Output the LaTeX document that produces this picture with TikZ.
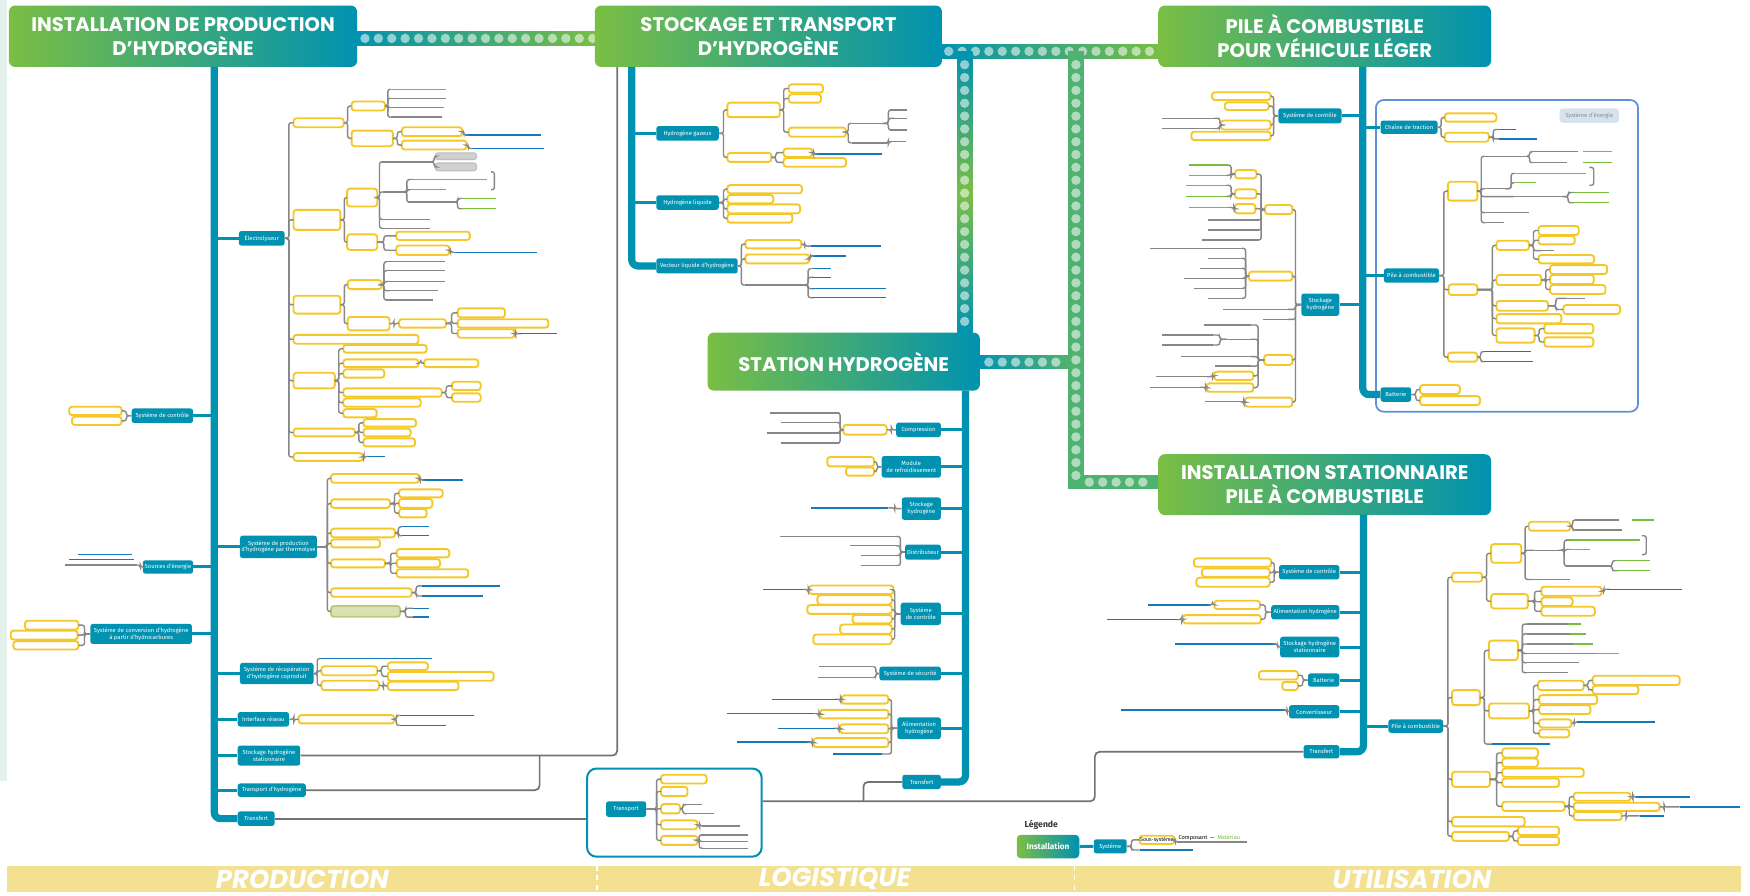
\documentclass[tikz,border=0pt]{standalone}
\usepackage{fontspec}
\setmainfont{Fira Sans}
\newfontfamily\headfont{Poppins}
\usetikzlibrary{calc}

\definecolor{hteal}{RGB}{0,146,176}
\definecolor{hgreen}{RGB}{122,190,68}
\definecolor{midgreen}{RGB}{80,178,112}
\definecolor{hyellow}{RGB}{244,200,40}
\definecolor{twiggray}{RGB}{135,135,135}
\definecolor{linkblue}{RGB}{20,120,185}
\definecolor{leafgreen}{RGB}{120,190,60}
\definecolor{barsand}{RGB}{243,224,145}
\definecolor{boxblue}{RGB}{95,145,215}
\definecolor{pillblue}{RGB}{214,226,238}
\definecolor{stripmint}{RGB}{228,241,236}
\definecolor{olivefill}{RGB}{218,226,178}
\definecolor{oliveline}{RGB}{190,200,120}

% block given by its corners (x1,y1) (x2,y2)
\newcommand{\blk}[7][sub]{\node[#1, minimum width={(#5-#3)*0.25mm}, minimum height={(#6-#4)*0.25mm}] (#2) at ({(#3+#5)/2},{(#4+#6)/2}) {#7};}
% underlined leaf from x1 to x2 at y
\newcommand{\lf}[5][twig]{\node[ul, minimum width={(#4-#3)*0.25mm}] (#2) at ({(#3+#4)/2},#5) {};
  \draw[#1] (#2.west) -- (#2.east);}
% branch to the right / to the left
\newcommand{\br}[3][3.5]{\draw[twig] (#2.east) -- ++(#1,0) |- (#3.west);}
\newcommand{\bl}[3][3.5]{\draw[twig] (#2.west) -- ++(-#1,0) |- (#3.east);}

\begin{document}
\begin{tikzpicture}[x=0.25mm, y=-0.25mm]
  \tikzstyle{head} = [rounded corners=4pt, left color=hgreen, right color=hteal, text=white, align=center, inner sep=0pt, font=\headfont\fontsize{12.5}{15.3}\selectfont\bfseries]
  \tikzstyle{sys} = [fill=hteal, text=white, rounded corners=1.6pt, inner sep=0.6pt, align=center, font=\fontsize{3.7}{4.3}\selectfont]
  \tikzstyle{sub} = [draw=hyellow, fill=white, line width=1.2pt, rounded corners=1.8pt, inner sep=0pt, outer sep=0pt]
  \tikzstyle{gbx} = [fill=black!18, draw=black!25, line width=0.8pt, rounded corners=1.8pt, inner sep=0pt]
  \tikzstyle{obx} = [sub, draw=oliveline, fill=olivefill]
  \tikzstyle{tbx} = [draw=hteal, line width=1.3pt, rounded corners=6pt, inner sep=0pt]
  \tikzstyle{ebox} = [draw=boxblue, line width=1.1pt, rounded corners=5pt, inner sep=0pt]
  \tikzstyle{pill} = [fill=pillblue, text=black!45, rounded corners=2pt, inner sep=0pt, font=\fontsize{3.7}{4.3}\selectfont]
  \tikzstyle{ul} = [inner sep=0pt, outer sep=0pt, minimum height=0pt]
  \tikzstyle{twig} = [draw=twiggray, line width=0.9pt, rounded corners=1.5pt]
  \tikzstyle{lnk} = [draw=linkblue, line width=0.9pt]
  \tikzstyle{gleaf} = [draw=leafgreen, line width=0.9pt]
  \tikzstyle{wire} = [draw=twiggray!85!black, line width=1.1pt, rounded corners=3pt]
  \tikzstyle{trunk} = [draw=hteal, line width=4.6pt, rounded corners=4pt]
  \tikzstyle{limb} = [draw=hteal, line width=1.9pt]
  \tikzstyle{bead} = [fill=white, opacity=0.55]
  \tikzstyle{zone} = [text=white, inner sep=0pt, font=\headfont\fontsize{16.5}{17}\selectfont\bfseries\itshape]

  \fill[white] (0,0) rectangle (1568,802);
  \useasboundingbox (0,0) rectangle (1568,802);
  \fill[stripmint] (0,0) rectangle (6,700);

  % dotted bars between the installations
  \fill[left color=hteal, right color=hgreen] (318,28.4) rectangle (536,40.4);
  \foreach \x in {327,339,...,531} {\fill[bead] (\x,34.4) circle[radius=4.2];}
  \fill[left color=hteal, right color=hgreen] (842,40) rectangle (1040,52);
  \foreach \x in {850,862,...,1030} {\fill[bead] (\x,46) circle[radius=4.2];}
  \fill[top color=hteal, bottom color=hteal, middle color=hgreen] (857.5,46) rectangle (871.2,300);
  \foreach \y in {58,69.5,...,293} {\fill[bead] (864.3,\y) circle[radius=4.2];}
  \fill[midgreen] (957,46) rectangle (971,438);
  \fill[midgreen] (957,426) rectangle (1040,438);
  \foreach \y in {58,69.5,...,426} {\fill[bead] (964,\y) circle[radius=4.2];}
  \foreach \x in {976,988,...,1032} {\fill[bead] (\x,432) circle[radius=4.2];}
  \fill[left color=hteal, right color=midgreen] (876,318.5) rectangle (958,330.5);
  \foreach \x in {886,898,...,950} {\fill[bead] (\x,324.5) circle[radius=4.2];}

  % ---------------- production
  \blk[head]{hprod}{8}{5}{320}{60}{INSTALLATION DE PRODUCTION\\D’HYDROGÈNE}
  \coordinate (ptop) at (192,60);
  \blk[sys]{elec}{214}{207}{255}{220}{Électrolyseur}
  \blk[sys]{thermo}{215}{480}{284}{500}{Système de production\\d’hydrogène par thermolyse}
  \blk[sys]{recup}{215}{594}{281}{613}{Système de récupération\\d’hydrogène coproduit}
  \blk[sys]{reseau}{213}{638}{259}{651}{Interface réseau}
  \blk[sys]{stost}{213}{668}{269}{686}{Stockage hydrogène\\stationnaire}
  \blk[sys]{trh}{213}{702}{274}{714}{Transport d’hydrogène}
  \blk[sys]{trf}{213}{727}{246}{740}{Transfert}
  \blk[sys]{pctl}{118}{366}{173}{379}{Système de contrôle}
  \blk[sys]{pres}{128}{502}{173}{514}{Sources d’énergie}
  \blk[sys]{pconv}{81}{559}{172}{577}{Système de conversion d’hydrogène\\à partir d’hydrocarbures}
  \draw[trunk] (ptop) |- (trf.west);
  \foreach \n in {elec,thermo,recup,reseau,stost,trh} {\draw[limb] (ptop |- \n.west) -- (\n.west);}
  \foreach \n in {pctl,pres,pconv} {\draw[limb] (\n.east) -- (ptop |- \n.east);}

  % electrolyseur
  \blk{e1}{263}{106}{308}{114}{}
  \blk{e2}{263}{188}{305}{206}{}
  \blk{e3}{263}{265}{305}{281}{}
  \blk{e4}{263}{300}{375}{308}{}
  \blk{e5}{263}{334}{300}{348}{}
  \blk{e6}{263}{384}{318}{391}{}
  \blk{e7}{263}{406}{325}{413}{}
  \foreach \c in {e1,e2,e3,e4,e5,e6,e7} {\br{elec}{\c}}
  \blk{e1a}{315}{91}{345}{99}{}
  \blk{e1b}{315}{117}{352}{131}{}
  \br{e1}{e1a} \br{e1}{e1b}
  \lf[gleaf]{e1a1}{350}{400}{80}
  \lf{e1a2}{350}{400}{88}
  \lf{e1a3}{350}{398}{96.5}
  \lf{e1a4}{350}{396}{105}
  \foreach \c in {e1a1,e1a2,e1a3,e1a4} {\br[2.5]{e1a}{\c}}
  \blk{e1b1}{360}{114}{414}{122}{}
  \blk{e1b2}{360}{126}{418}{134}{}
  \br[4]{e1b}{e1b1} \br[4]{e1b}{e1b2}
  \lf[lnk]{e1b1l}{417}{485}{121}
  \lf[lnk]{e1b2l}{421}{487}{133}
  \br[1.5]{e1b1}{e1b1l} \br[1.5]{e1b2}{e1b2l}
  \blk{e2a}{311}{169}{338}{185}{}
  \blk{e2b}{311}{210}{338}{224}{}
  \br{e2}{e2a} \br{e2}{e2b}
  \lf{e2a1}{342}{388}{145}
  \lf{e2a2}{343}{363}{172}
  \lf{e2a3}{342}{385}{196.5}
  \lf{e2a4}{342}{385}{204.5}
  \foreach \c in {e2a1,e2a2,e2a3,e2a4} {\br[2]{e2a}{\c}}
  \blk[gbx]{g1}{390}{137}{427}{143}{}
  \blk[gbx]{g2}{390}{146}{427}{153}{}
  \br[1]{e2a1}{g1} \br[1]{e2a1}{g2}
  \lf[gleaf]{e2c1}{366}{436}{161}
  \lf[gleaf]{e2c2}{366}{400}{170}
  \lf{e2c3}{366}{408}{181}
  \foreach \c in {e2c1,e2c2,e2c3} {\br[1.5]{e2a2}{\c}}
  \lf[gleaf]{e2d1}{412}{444}{178}
  \lf[gleaf]{e2d2}{412}{444}{187}
  \br[2]{e2c3}{e2d1} \br[2]{e2c3}{e2d2}
  \draw[twig] (440,154) -- (443,154) -- (443,170) -- (440,170);
  \blk{e2b1}{355}{207.6}{421}{215}{}
  \blk{e2b2}{355}{220}{402.6}{228.5}{}
  \br[6]{e2b}{e2b1} \br[6]{e2b}{e2b2}
  \lf[lnk]{e2b2l}{405}{481}{226}
  \br[1]{e2b2}{e2b2l}
  \blk{e3a}{311.5}{251}{342}{259}{}
  \blk{e3b}{311.5}{284}{349}{296}{}
  \br{e3}{e3a} \br{e3}{e3b}
  \lf{e3a1}{346}{399}{234.5}
  \lf{e3a2}{346}{399}{242.5}
  \lf{e3a3}{346}{399}{252.4}
  \lf{e3a4}{346}{392}{260.5}
  \lf{e3a5}{346}{388}{268.8}
  \foreach \c in {e3a1,e3a2,e3a3,e3a4,e3a5} {\br[2]{e3a}{\c}}
  \blk{e3c}{357.5}{286}{399.6}{293.6}{}
  \br[4]{e3b}{e3c}
  \blk{e3c1}{410}{276.3}{452.5}{284.4}{}
  \blk{e3c2}{410}{286}{491.4}{293.6}{}
  \blk{e3c3}{410}{295}{461}{302.6}{}
  \foreach \c in {e3c1,e3c2,e3c3} {\br[5]{e3c}{\c}}
  \lf[lnk]{e3c3l}{463}{499}{299}
  \br[1]{e3c3}{e3c3l}
  \blk{e5a}{307.6}{309}{382.3}{316}{}
  \blk{e5b}{307.6}{322}{375}{329}{}
  \blk{e5c}{307.6}{331}{344.4}{338.4}{}
  \blk{e5d}{307.6}{348}{395.8}{355.4}{}
  \blk{e5e}{307.6}{357}{377}{364.4}{}
  \blk{e5f}{307.6}{366.5}{337.5}{374}{}
  \foreach \c in {e5a,e5b,e5c,e5d,e5e,e5f} {\br{e5}{\c}}
  \blk{e5b1}{380}{322}{428.6}{329}{}
  \br[2]{e5b}{e5b1}
  \blk{e5d1}{405}{342}{430.7}{349.5}{}
  \blk{e5d2}{405}{352.5}{430.7}{360}{}
  \br[4]{e5d}{e5d1} \br[4]{e5d}{e5d2}
  \blk{e6a}{325.6}{375.5}{372.8}{382.3}{}
  \blk{e6b}{325.6}{384}{368}{391}{}
  \blk{e6c}{325.6}{392.8}{372}{400}{}
  \foreach \c in {e6a,e6b,e6c} {\br[3.5]{e6}{\c}}
  \lf[lnk]{e7l}{327}{345}{409}
  \br[1]{e7}{e7l}

  % thermolyse
  \blk{t1}{296.6}{424.7}{375.4}{432.5}{}
  \blk{t2}{296.6}{447.4}{349.5}{455}{}
  \blk{t3}{296.6}{473.7}{354}{481.5}{}
  \blk{t4}{296.6}{483.3}{340.5}{490.5}{}
  \blk{t5}{296.6}{501.2}{345}{508.4}{}
  \blk{t6}{296.6}{527.2}{368.9}{534.7}{}
  \blk[obx]{t7}{296.6}{543}{358.4}{552.6}{}
  \foreach \c in {t1,t2,t3,t4,t5,t6,t7} {\br[9]{thermo}{\c}}
  \lf[lnk]{t1l}{378}{415}{430}
  \br[1]{t1}{t1l}
  \blk{t2a}{357.5}{438.5}{396.7}{445.6}{}
  \blk{t2b}{357.5}{447}{387.4}{455}{}
  \blk{t2c}{357.5}{456}{382.3}{463.6}{}
  \foreach \c in {t2a,t2b,t2c} {\br[4]{t2}{\c}}
  \lf[lnk]{t3a}{360}{384}{472}
  \lf[lnk]{t3b}{360}{384}{480}
  \br[3]{t3}{t3a} \br[3]{t3}{t3b}
  \blk{t5a}{355.4}{492}{402.6}{499.4}{}
  \blk{t5b}{355.4}{501}{394.3}{508.4}{}
  \blk{t5c}{355.4}{510}{419.6}{517.3}{}
  \foreach \c in {t5a,t5b,t5c} {\br[5]{t5}{\c}}
  \lf[lnk]{t6a}{378}{448}{525}
  \lf[lnk]{t6b}{378}{433}{534}
  \br[4]{t6}{t6a} \br[4]{t6}{t6b}
  \lf[lnk]{t7a}{370}{384}{545}
  \lf[lnk]{t7b}{370}{384}{553}
  \br[5]{t7}{t7a} \br[5]{t7}{t7b}

  % recuperation, interface
  \lf[lnk]{r0}{287}{387.5}{590}
  \blk{r1}{288}{597}{338}{605}{}
  \blk{r2}{288}{610}{339.5}{618.3}{}
  \foreach \c in {r0,r1,r2} {\br[3]{recup}{\c}}
  \blk{r1a}{347.4}{593.5}{383.4}{600.4}{}
  \blk{r1b}{347.4}{602}{442.3}{610}{}
  \br[4]{r1}{r1a} \br[4]{r1}{r1b}
  \blk{r2a}{347.4}{610.8}{410.8}{618.3}{}
  \br[4]{r2}{r2a}
  \blk{n1}{267.5}{640.7}{353.2}{648.2}{}
  \br[4]{reseau}{n1}
  \lf[lnk]{n1a}{358}{425}{641}
  \lf[lnk]{n1b}{358}{399.5}{650}
  \br[2]{n1}{n1a} \br[2]{n1}{n1b}

  % left of the production trunk
  \blk{c1}{62}{364.4}{109}{372}{}
  \blk{c2}{64.5}{373.4}{109}{380.8}{}
  \bl[4.5]{pctl}{c1} \bl[4.5]{pctl}{c2}
  \lf[lnk]{pr0}{70}{118}{497}
  \lf[lnk]{pr1}{62}{120}{501.5}
  \lf{pr2}{58}{123}{506.3}
  \bl[2]{pres}{pr2}
  \blk{v1}{22.3}{556.2}{70.3}{564}{}
  \blk{v2}{9.6}{565}{69.6}{573}{}
  \blk{v3}{12}{574.4}{70.3}{582}{}
  \foreach \c in {v1,v2,v3} {\bl[5]{pconv}{\c}}

  % links towards logistics
  \coordinate (h2foot) at (553,60);
  \coordinate (tj) at (483.5,677);
  \draw[wire] (stost.east) -| (h2foot);
  \draw[wire] (trh.east) -| (tj);
  \blk[tbx]{tbox}{526}{688.6}{682.5}{767.6}{}
  \draw[wire] (trf.east) -- (trf.east -| tbox.west);

  % transport box
  \blk[sys]{transp}{543}{718}{579}{732}{Transport}
  \blk{x1}{592.3}{694.2}{633.2}{702}{}
  \blk{x2}{592.3}{705}{616}{713.3}{}
  \blk{x3}{592.3}{720.5}{609.3}{728.8}{}
  \blk{x4}{592.3}{735}{624.8}{743}{}
  \blk{x5}{592.3}{749}{625}{757}{}
  \foreach \c in {x1,x2,x3,x4,x5} {\br[9]{transp}{\c}}
  \lf{x3a}{615}{629}{721}
  \lf{x3b}{615}{640}{729}
  \br[2.5]{x3}{x3a} \br[2.5]{x3}{x3b}
  \lf{x4a}{629}{663}{740}
  \br[2]{x4}{x4a}
  \lf{x5a}{628}{670}{748}
  \lf{x5b}{628}{670}{754}
  \lf{x5c}{628}{670}{760}
  \foreach \c in {x5a,x5b,x5c} {\br[1.5]{x5}{\c}}

  % ---------------- stockage et transport
  \blk[head]{hsto}{533}{5}{844}{60}{STOCKAGE ET TRANSPORT\\D’HYDROGÈNE}
  \coordinate (stop) at (566,60);
  \blk[sys]{hg}{588}{113}{644}{126}{Hydrogène gazeux}
  \blk[sys]{hl}{588}{175}{644}{188}{Hydrogène liquide}
  \blk[sys]{vl}{588}{231.5}{661}{245}{Vecteur liquide d’hydrogène}
  \draw[trunk] (stop) |- (vl.west);
  \draw[limb] (stop |- hg.west) -- (hg.west);
  \draw[limb] (stop |- hl.west) -- (hl.west);
  \blk{hg1}{651.7}{92}{698.7}{105}{}
  \blk{hg2}{651.7}{137}{691.2}{145}{}
  \br[4]{hg}{hg1} \br[4]{hg}{hg2}
  \blk{hg1a}{706.6}{75.6}{737.4}{83}{}
  \blk{hg1b}{706.6}{84.5}{735.7}{92}{}
  \blk{hg1c}{706.6}{114.4}{758}{122.5}{}
  \foreach \c in {hg1a,hg1b,hg1c} {\br[3.5]{hg1}{\c}}
  \lf{hga}{763}{795}{110.5}
  \lf{hgb}{763}{795}{128}
  \br[2]{hg1c}{hga} \br[2]{hg1c}{hgb}
  \lf{hga1}{797}{813}{98.6}
  \lf{hga2}{797}{813}{106}
  \lf{hga3}{797}{813}{116.5}
  \foreach \c in {hga1,hga2,hga3} {\br[1]{hga}{\c}}
  \lf{hgb1}{797}{812}{127}
  \br[1]{hgb}{hgb1}
  \blk{hg2a}{702}{133.2}{728}{140.4}{}
  \blk{hg2b}{702}{141.6}{758}{149.4}{}
  \br[4]{hg2}{hg2a} \br[4]{hg2}{hg2b}
  \lf[lnk]{hg2l}{730}{790}{138}
  \br[1]{hg2a}{hg2l}
  \blk{hl1}{651.7}{165.8}{718.6}{173.2}{}
  \blk{hl2}{651.7}{174.7}{692.9}{182.2}{}
  \blk{hl3}{651.7}{183.1}{716.9}{191.2}{}
  \blk{hl4}{651.7}{191.8}{710}{199.5}{}
  \foreach \c in {hl1,hl2,hl3,hl4} {\br[4]{hl}{\c}}
  \blk{vl1}{667.8}{215}{718}{222.5}{}
  \blk{vl2}{667.8}{228}{724.8}{236}{}
  \lf{vl3}{667.8}{722}{255.4}
  \foreach \c in {vl1,vl2,vl3} {\br[3]{vl}{\c}}
  \lf[lnk]{vl1l}{727}{789}{220.5}
  \lf[lnk]{vl2l}{727}{758}{229.5}
  \br[3]{vl1}{vl1l} \br[1]{vl2}{vl2l}
  \lf[lnk]{vl3a}{726}{745}{240.8}
  \lf[lnk]{vl3b}{726}{745}{248.5}
  \lf[lnk]{vl3c}{726}{794}{258.7}
  \lf[lnk]{vl3d}{726}{794}{266.7}
  \foreach \c in {vl3a,vl3b,vl3c,vl3d} {\br[2]{vl3}{\c}}

  % ---------------- station hydrogene
  \blk[head]{hstn}{634}{298}{878}{350}{STATION HYDROGÈNE}
  \coordinate (stntop) at (865,350);
  \blk[sys]{comp}{803}{378.6}{843}{391.6}{Compression}
  \blk[sys]{modr}{790}{408.6}{843}{428}{Module\\de refroidissement}
  \blk[sys]{stoh}{808}{445.7}{843}{465.8}{Stockage\\hydrogène}
  \blk[sys]{dist}{811}{488}{843}{501.4}{Distributeur}
  \blk[sys]{sctl}{807}{540}{843}{560}{Système\\de contrôle}
  \blk[sys]{ssec}{788}{597.3}{843}{609.7}{Système de sécurité}
  \blk[sys]{alim}{804}{642.8}{843}{662.3}{Alimentation\\hydrogène}
  \blk[sys]{strf}{808.5}{694.2}{843}{707}{Transfert}
  \draw[trunk] (stntop) |- (strf.east);
  \foreach \n in {comp,modr,stoh,dist,sctl,ssec,alim} {\draw[limb] (\n.east) -- (stntop |- \n.east);}
  \blk{k1}{755.7}{380.7}{794.5}{389.4}{}
  \bl[4]{comp}{k1}
  \lf{k1a}{690}{752}{370}
  \lf{k1b}{700}{752}{378.6}
  \lf{k1c}{687}{752}{387.8}
  \lf{k1d}{700}{752}{397.1}
  \foreach \c in {k1a,k1b,k1c,k1d} {\bl[3]{k1}{\c}}
  \blk{m1}{741.3}{409.5}{783.2}{417.9}{}
  \blk{m2}{758}{418.8}{783.2}{426.2}{}
  \bl[4]{modr}{m1} \bl[4]{modr}{m2}
  \lf[lnk]{sl}{727}{796}{455}
  \bl[6]{stoh}{sl}
  \lf{d1}{699}{803}{480.7}
  \lf{d2}{762}{803}{489}
  \lf{d3}{771}{803}{497.7}
  \lf{d4}{771}{803}{506.7}
  \foreach \c in {d1,d2,d3,d4} {\bl[4]{dist}{\c}}
  \blk{sc1}{725.2}{524.6}{800.5}{532.3}{}
  \blk{sc2}{732.4}{533.3}{799}{541.6}{}
  \blk{sc3}{723.4}{542.2}{799}{550}{}
  \blk{sc4}{764}{550.9}{799}{558.6}{}
  \blk{sc5}{752.7}{559.6}{799}{567.9}{}
  \blk{sc6}{728.8}{568.5}{799}{577.2}{}
  \foreach \c in {sc1,sc2,sc3,sc4,sc5,sc6} {\bl[5]{sctl}{\c}}
  \lf[lnk]{sc1l}{684}{723}{528.3}
  \bl[1]{sc1}{sc1l}
  \lf{se1}{734}{782.6}{597.3}
  \lf{se2}{733}{782.6}{607.2}
  \bl[3]{ssec}{se1} \bl[3]{ssec}{se2}
  \blk{al1}{754.2}{623}{796}{630.4}{}
  \blk{al2}{734.8}{636}{796}{643.7}{}
  \blk{al3}{752.7}{649}{796}{657}{}
  \blk{al4}{728.8}{661.4}{796}{669.4}{}
  \lf[lnk]{al5}{746.7}{790}{675.6}
  \foreach \c in {al1,al2,al3,al4,al5} {\bl[5]{alim}{\c}}
  \lf[lnk]{al1l}{692}{752}{626.5}
  \lf[lnk]{al2l}{651}{733}{639.5}
  \lf[lnk]{al3l}{697}{751}{652.5}
  \lf[lnk]{al4l}{660}{727}{665}
  \bl[1]{al1}{al1l} \bl[1]{al2}{al2l} \bl[1]{al3}{al3l} \bl[1]{al4}{al4l}
  \coordinate (sj) at (773.6,718);
  \coordinate (xj) at (981,718);
  \draw[wire] (strf.west) -| (sj);

  % ---------------- pile vehicule leger
  \blk[head]{hpv}{1038}{5}{1336}{60}{PILE À COMBUSTIBLE\\POUR VÉHICULE LÉGER}
  \blk[ebox]{ebox}{1232.8}{89.6}{1467.7}{368.9}{}
  \blk[pill]{epill}{1397.4}{97}{1450.6}{110}{Système d’énergie}
  \coordinate (vtop) at (1221,60);
  \blk[sys]{vctl}{1145.4}{97}{1202}{110.5}{Système de contrôle}
  \blk[sys]{vsto}{1166}{263}{1200}{283}{Stockage\\hydrogène}
  \blk[sys]{vtrac}{1237}{108}{1288}{120}{Chaîne de traction}
  \blk[sys]{vpile}{1240}{240.5}{1289.4}{253.3}{Pile à combustible}
  \blk[sys]{vbat}{1237}{347}{1264.4}{360}{Batterie}
  \draw[trunk] (vtop) |- (vbat.west);
  \draw[limb] (vctl.east) -- (vtop |- vctl.east);
  \draw[limb] (vsto.east) -- (vtop |- vsto.east);
  \draw[limb] (vtop |- vtrac.west) -- (vtrac.west);
  \draw[limb] (vtop |- vpile.west) -- (vpile.west);
  \blk{vc1}{1086}{82.7}{1138.5}{89.6}{}
  \blk{vc2}{1097.4}{91.7}{1136.8}{98.6}{}
  \blk{vc3}{1094}{108}{1138.5}{116}{}
  \blk{vc4}{1067.5}{118}{1138.5}{125.5}{}
  \foreach \c in {vc1,vc2,vc3,vc4} {\bl[4]{vctl}{\c}}
  \lf{vc3a}{1041}{1092}{106}
  \lf{vc3b}{1041}{1092}{115}
  \bl[1]{vc3}{vc3a} \bl[1]{vc3}{vc3b}
  % reservoir side
  \blk{vr}{1133.4}{183.7}{1158}{191.8}{}
  \blk{vm}{1119}{243.4}{1158}{251.5}{}
  \lf{vs1}{1095.7}{1154}{277.2}
  \lf{vs2}{1131.7}{1154}{286.2}
  \blk{vh}{1132.7}{318}{1158}{327}{}
  \blk{vcy}{1115.5}{356.3}{1158}{364.4}{}
  \foreach \c in {vr,vm,vs1,vs2,vh,vcy} {\bl[5]{vsto}{\c}}
  \blk{y1}{1106.6}{152.3}{1125.8}{159.8}{}
  \blk{y2}{1106.6}{169.7}{1125.8}{177.7}{}
  \blk{y3}{1106.6}{182.8}{1124.8}{191.2}{}
  \lf{y4}{1082}{1128}{197.1}
  \lf{y5}{1082}{1128}{206.1}
  \lf{y6}{1077}{1128}{215}
  \foreach \c in {y1,y2,y3,y4,y5,y6} {\bl[3.4]{vr}{\c}}
  \lf[gleaf]{y1a}{1065}{1099}{148}
  \lf[gleaf]{y1b}{1065}{1099}{157}
  \bl[3.5]{y1}{y1a} \bl[3.5]{y1}{y1b}
  \lf[gleaf]{y2a}{1063}{1099}{166}
  \lf[gleaf]{y2b}{1063}{1099}{176}
  \bl[3.5]{y2}{y2a} \bl[3.5]{y2}{y2b}
  \lf[gleaf]{y3a}{1065}{1104}{186}
  \bl[1]{y3}{y3a}
  \lf{vm1}{1030.5}{1113}{222.5}
  \lf{vm2}{1082}{1113}{231.5}
  \lf{vm3}{1075}{1113}{240.5}
  \lf{vm4}{1061}{1113}{249.4}
  \lf{vm5}{1070}{1113}{258.4}
  \lf{vm6}{1082}{1113}{267.3}
  \foreach \c in {vm1,vm2,vm3,vm4,vm5,vm6} {\bl[3]{vm}{\c}}
  \lf{vh1}{1078.5}{1121}{291.2}
  \lf{vh2}{1099}{1121}{304}
  \lf{vh3}{1058}{1121}{319.6}
  \lf{vh4}{1089}{1121}{328}
  \blk{vh5}{1088}{333}{1123}{340.5}{}
  \blk{vh6}{1081.2}{343.5}{1123}{351}{}
  \foreach \c in {vh1,vh2,vh3,vh4,vh5,vh6} {\bl[5.5]{vh}{\c}}
  \lf{vh2a}{1041}{1087}{300.2}
  \lf{vh2b}{1041}{1087}{309.1}
  \bl[6]{vh2}{vh2a} \bl[6]{vh2}{vh2b}
  \lf{vh5a}{1036}{1085}{337.5}
  \bl[1.5]{vh5}{vh5a}
  \lf{vh6a}{1030.5}{1079}{347}
  \bl[1]{vh6}{vh6a}
  \lf{vcya}{1080}{1114}{360}
  \bl[1]{vcy}{vcya}
  % energy side
  \blk{tr1}{1294.5}{101.6}{1340.8}{109}{}
  \blk{tr2}{1294.5}{118.9}{1334}{127}{}
  \br[3]{vtrac}{tr1} \br[3]{vtrac}{tr2}
  \lf[lnk]{tr2a}{1343}{1358}{116}
  \lf[lnk]{tr2b}{1343}{1377}{124.5}
  \br[4]{tr2}{tr2a} \br[4]{tr2}{tr2b}
  \blk{p1}{1297.3}{162.8}{1323.7}{179.8}{}
  \blk{p2}{1298}{254.8}{1323.7}{264.3}{}
  \blk{p3}{1297.3}{316}{1323.7}{324}{}
  \foreach \c in {p1,p2,p3} {\br[4]{vpile}{\c}}
  \lf{pl1}{1330}{1368}{140}
  \lf{pl2}{1331}{1352}{169}
  \lf{pl3}{1356}{1404}{176.2}
  \lf{pl4}{1331}{1370}{190.6}
  \lf{pl5}{1331}{1348}{199.5}
  \foreach \c in {pl1,pl2,pl3,pl4,pl5} {\br[3.5]{p1}{\c}}
  \lf{pl1a}{1373}{1414}{136}
  \lf{pl1b}{1373}{1404}{145.8}
  \br[2.5]{pl1}{pl1a} \br[2.5]{pl1}{pl1b}
  \lf[gleaf]{pl1c}{1418}{1444}{136}
  \lf[gleaf]{pl1d}{1418}{1444}{145.8}
  \lf[gleaf]{pl2a}{1357}{1421}{155.3}
  \lf[gleaf]{pl2b}{1357}{1376}{163.7}
  \br[2]{pl2}{pl2a} \br[2]{pl2}{pl2b}
  \draw[twig] (1424,150) -- (1428,150) -- (1428,166) -- (1424,166);
  \lf[gleaf]{pl3a}{1406}{1442}{172.6}
  \lf[gleaf]{pl3b}{1406}{1442}{181.6}
  \br[1]{pl3}{pl3a} \br[1]{pl3}{pl3b}
  \blk{q1}{1340.8}{215.7}{1370}{224}{}
  \blk{q2}{1340.8}{246.4}{1381}{255.4}{}
  \blk{q3}{1340.8}{269.7}{1387}{278.4}{}
  \blk{q4}{1340.8}{281.4}{1399}{289.7}{}
  \blk{q5}{1340.8}{294.2}{1375}{307}{}
  \foreach \c in {q1,q2,q3,q4,q5} {\br[13.5]{p2}{\c}}
  \blk{q1a}{1378.5}{202.5}{1414.5}{210.6}{}
  \blk{q1b}{1378.5}{211.5}{1411}{219}{}
  \lf{q1c}{1381}{1392}{224.6}
  \blk{q1d}{1378.5}{228.5}{1428.3}{236}{}
  \foreach \c in {q1a,q1b,q1c,q1d} {\br[4]{q1}{\c}}
  \blk{q2a}{1388.8}{237.5}{1440}{245.5}{}
  \blk{q2b}{1388.8}{246.4}{1428}{254.5}{}
  \blk{q2c}{1388.8}{255.4}{1438.5}{263.4}{}
  \foreach \c in {q2a,q2b,q2c} {\br[4]{q2}{\c}}
  \lf{q3a}{1403}{1420}{267.3}
  \blk{q3b}{1400.8}{273.3}{1451.6}{281.4}{}
  \br[7]{q3}{q3a} \br[7]{q3}{q3b}
  \blk{q5a}{1383.7}{290.3}{1427.6}{298.7}{}
  \blk{q5b}{1383.7}{302.3}{1427.6}{310.6}{}
  \br[4]{q5}{q5a} \br[4]{q5}{q5b}
  \lf[lnk]{p3a}{1329.5}{1371.7}{315}
  \lf[lnk]{p3b}{1329.5}{1374}{324}
  \br[3]{p3}{p3a} \br[3]{p3}{p3b}
  \blk{vb1}{1272.3}{345}{1308}{353}{}
  \blk{vb2}{1272.3}{354.9}{1326}{363}{}
  \br[4]{vbat}{vb1} \br[4]{vbat}{vb2}

  % ---------------- installation stationnaire
  \blk[head]{hst}{1038}{407}{1336}{461.5}{INSTALLATION STATIONNAIRE\\PILE À COMBUSTIBLE}
  \coordinate (xtop) at (1221.7,461);
  \blk[sys]{xctl}{1146}{506.3}{1200}{519.2}{Système de contrôle}
  \blk[sys]{xali}{1139}{542.2}{1200}{555}{Alimentation hydrogène}
  \blk[sys]{xsto}{1147}{570.5}{1200}{589}{Stockage hydrogène\\stationnaire}
  \blk[sys]{xbat}{1172}{603.4}{1200}{615.3}{Batterie}
  \blk[sys]{xconv}{1155}{631.8}{1200}{643.7}{Convertisseur}
  \blk[sys]{xtrf}{1168}{667.6}{1200}{679.6}{Transfert}
  \blk[sys]{xpile}{1244}{644.6}{1293}{656.6}{Pile à combustible}
  \draw[trunk] (xtop) |- (xtrf.east);
  \foreach \n in {xctl,xali,xsto,xbat,xconv} {\draw[limb] (\n.east) -- (xtop |- \n.east);}
  \draw[limb] (xtop |- xpile.west) -- (xpile.west);
  \draw[wire] (tbox.east |- sj) -- (xj) |- (xtrf.west);
  \blk{xc1}{1069.7}{500.3}{1139}{507.8}{}
  \blk{xc2}{1077}{509.3}{1137.7}{516.8}{}
  \blk{xc3}{1072}{517.7}{1137.7}{525.7}{}
  \foreach \c in {xc1,xc2,xc3} {\bl[4]{xctl}{\c}}
  \blk{xa1}{1088}{538.3}{1129}{545.7}{}
  \blk{xa2}{1060}{551.1}{1129.7}{558.6}{}
  \bl[5]{xali}{xa1} \bl[5]{xali}{xa2}
  \lf[lnk]{xa1l}{1029}{1085}{542}
  \lf[lnk]{xa2l}{992}{1058}{555}
  \bl[1.5]{xa1}{xa1l} \bl[1]{xa2}{xa2l}
  \lf[lnk]{xsl}{1053}{1143}{577}
  \bl[2]{xsto}{xsl}
  \blk{xb1}{1128}{601.3}{1163}{608.8}{}
  \blk{xb2}{1149}{610.9}{1163}{618.3}{}
  \bl[4.5]{xbat}{xb1} \bl[4.5]{xbat}{xb2}
  \lf[lnk]{xcl}{1004}{1152}{636.2}
  \bl[1.5]{xconv}{xcl}
  % pile stationnaire
  \blk{s1}{1301}{513.2}{1328}{521.2}{}
  \blk{s2}{1301}{618.3}{1326}{631.8}{}
  \blk{s3}{1301}{691.5}{1335}{705}{}
  \blk{s4}{1301}{732}{1366}{740.4}{}
  \blk{s5}{1301}{745.4}{1352}{753.4}{}
  \foreach \c in {s1,s2,s3,s4,s5} {\br[4]{xpile}{\c}}
  \blk{s1a}{1336}{487.5}{1363}{504.2}{}
  \blk{s1b}{1336}{532.3}{1369}{545.2}{}
  \br[4]{s1}{s1a} \br[4]{s1}{s1b}
  \blk{s1a1}{1369.7}{467.5}{1407}{475.5}{}
  \lf{s1a2}{1375}{1400}{493}
  \lf{s1a3}{1373}{1407}{519.2}
  \foreach \c in {s1a1,s1a2,s1a3} {\br[3.5]{s1a}{\c}}
  \lf{s1a1a}{1411}{1451}{466}
  \lf{s1a1b}{1411}{1453}{475}
  \br[2]{s1a1}{s1a1a} \br[2]{s1a1}{s1a1b}
  \lf[gleaf]{s1a1c}{1462}{1482}{466}
  \lf[gleaf]{s1a2a}{1403}{1469}{484}
  \lf[gleaf]{s1a2b}{1403}{1425}{492.5}
  \lf{s1a2c}{1403}{1443}{507.2}
  \foreach \c in {s1a2a,s1a2b,s1a2c} {\br[1.5]{s1a2}{\c}}
  \lf[gleaf]{s1a2d}{1446}{1478}{502.4}
  \lf[gleaf]{s1a2e}{1446}{1478}{511.4}
  \br[1.5]{s1a2c}{s1a2d} \br[1.5]{s1a2c}{s1a2e}
  \draw[twig] (1471,480) -- (1475,480) -- (1475,497) -- (1471,497);
  \blk{s1b1}{1381}{525.7}{1435}{533.8}{}
  \blk{s1b2}{1381}{535.3}{1409}{543}{}
  \blk{s1b3}{1381}{543.6}{1429}{551.7}{}
  \foreach \c in {s1b1,s1b2,s1b3} {\br[6]{s1b}{\c}}
  \lf[lnk]{s1b1l}{1439}{1507}{528}
  \br[2]{s1b1}{s1b1l}
  \blk{s2a}{1334}{574}{1360}{591.4}{}
  \blk{s2b}{1334}{630.3}{1370}{643.7}{}
  \lf[lnk]{s2l}{1337}{1389}{666.7}
  \foreach \c in {s2a,s2b,s2l} {\br[4]{s2}{\c}}
  \lf{s2a1}{1368}{1417}{559.2}
  \lf{s2a2}{1368}{1421}{568}
  \lf{s2a3}{1368}{1427}{577}
  \lf{s2a4}{1368}{1451}{585.5}
  \lf{s2a5}{1368}{1415}{593.8}
  \lf{s2a6}{1368}{1405}{602.8}
  \foreach \c in {s2a1,s2a2,s2a3,s2a4,s2a5,s2a6} {\br[4]{s2a}{\c}}
  \lf[gleaf]{s2a1g}{1405}{1417}{559.2}
  \lf[gleaf]{s2a2g}{1407}{1421}{568}
  \lf[gleaf]{s2a3g}{1409}{1427}{577}
  \lf[gleaf]{s2a4g}{1430}{1451}{585.5}
  \blk{b1}{1378}{610}{1419}{618.3}{}
  \blk{b2}{1379}{622.8}{1431}{630.9}{}
  \blk{b3}{1379}{631.8}{1425}{639.8}{}
  \blk{b4}{1379}{644.6}{1408}{651.8}{}
  \blk{b5}{1379}{653.6}{1406}{660.7}{}
  \foreach \c in {b1,b2,b3,b4,b5} {\br[4]{s2b}{\c}}
  \blk{b1a}{1427}{605.5}{1505}{613.8}{}
  \blk{b1b}{1427}{614.4}{1468}{621.9}{}
  \br[4]{b1}{b1a} \br[4]{b1}{b1b}
  \lf[lnk]{b4l}{1413}{1483}{647}
  \br[2.5]{b4}{b4l}
  \blk{c3a}{1346}{670.6}{1378}{678.7}{}
  \blk{c3b}{1346}{679.6}{1378}{687}{}
  \blk{c3c}{1346}{688.5}{1419}{696}{}
  \blk{c3d}{1346}{697.5}{1397}{705}{}
  \blk{c3e}{1346}{718.4}{1402}{726.5}{}
  \foreach \c in {c3a,c3b,c3c,c3d,c3e} {\br[6]{s3}{\c}}
  \blk{c3e1}{1410}{710.3}{1461}{717.5}{}
  \blk{c3e2}{1410}{719.3}{1487}{726.5}{}
  \blk{c3e3}{1410}{727.4}{1453}{734.8}{}
  \foreach \c in {c3e1,c3e2,c3e3} {\br[4]{c3e}{\c}}
  \lf[lnk]{c3e1l}{1465}{1514}{714}
  \lf[lnk]{c3e2l}{1505}{1559}{723}
  \lf[lnk]{c3e3l}{1469}{1491}{731}
  \br[2]{c3e1}{c3e1l} \br[4]{c3e2}{c3e2l} \br[4]{c3e3}{c3e3l}
  \blk{s5a}{1360}{740.8}{1397}{748.2}{}
  \blk{s5b}{1360}{749.8}{1397}{757.2}{}
  \br[4]{s5}{s5a} \br[4]{s5}{s5b}

  % ---------------- legende
  \node[font=\fontsize{5.5}{6}\selectfont\bfseries, text=black!80] (leg) at (933,739) {Légende};
  \blk[head, rounded corners=2.5pt, font=\fontsize{5.2}{6}\selectfont\bfseries]{linst}{911}{748}{967}{769}{Installation}
  \blk[sys]{lsys}{980}{752}{1009.5}{764.6}{Système}
  \draw[limb] (linst.east) -- (lsys.west);
  \blk[sub, font=\fontsize{3.4}{4}\selectfont]{lsub}{1021}{748.8}{1052}{756.2}{Sous-système}
  \lf{lcomp}{1055}{1117}{754.4}
  \node[anchor=south west, inner sep=0.5pt, font=\fontsize{3.6}{4}\selectfont] (lcompt) at (lcomp.west) {Composant\enspace—\enspace\textcolor{leafgreen}{Matériau}};
  \lf[lnk]{llink}{1021}{1069}{761.6}
  \br[4]{lsys}{lsub} \br[4]{lsys}{llink}
  \br[1]{lsub}{lcomp}

  % ---------------- bandeau
  \fill[barsand] (6,776) rectangle (1560,799);
  \draw[white, dashed, line width=0.8pt] (535,776) -- (535,799);
  \draw[white, dashed, line width=0.8pt] (963,776) -- (963,799);
  \node[zone] (zprod) at (271,787.5) {PRODUCTION};
  \node[zone] (zlog) at (748,787.5) {LOGISTIQUE};
  \node[zone] (zuti) at (1265,787.5) {UTILISATION};
\end{tikzpicture}
\end{document}
